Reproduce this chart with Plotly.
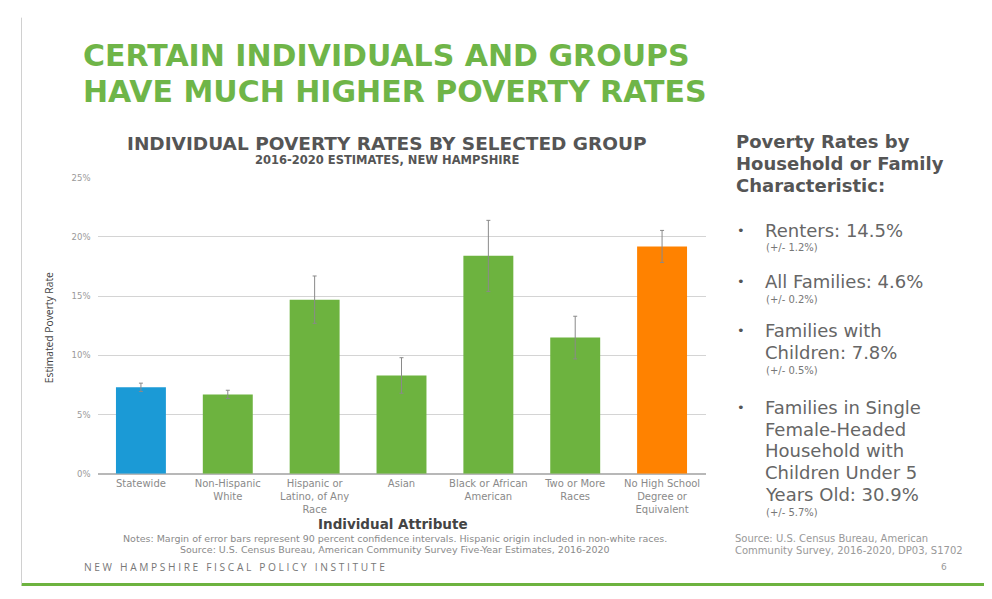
import plotly.graph_objects as go

categories = ["Statewide", "Non-Hispanic<br>White", "Hispanic or<br>Latino, of Any<br>Race", "Asian",
              "Black or African<br>American", "Two or More<br>Races", "No High School<br>Degree or<br>Equivalent"]
rates = [7.3, 6.7, 14.7, 8.3, 18.4, 11.5, 19.2]
margins = [0.35, 0.35, 2.0, 1.5, 3.0, 1.8, 1.35]
bar_colors = ["#1b9ad6", "#6db33f", "#6db33f", "#6db33f", "#6db33f", "#6db33f", "#ff8200"]
y_ticks = [0, 5, 10, 15, 20, 25]

GRAY = "#5a5a5a"
DV = "DejaVu Sans"
OS = "Open Sans"

# empirical pixel -> paper mapping
def PX(x):
    return (x - 9.5) / 992
def PY(y):
    return 1 - (y - 15.4) / 585.0

fig = go.Figure()
fig.add_trace(go.Bar(
    x=list(range(len(categories))), y=rates,
    marker=dict(color=bar_colors, line=dict(width=0)),
    width=0.575,
    error_y=dict(type="data", array=margins, visible=True, color="#8a8a8a", thickness=1, width=2),
    showlegend=False,
))

fig.update_layout(
    width=992, height=599,
    margin=dict(l=0, r=0, t=0, b=0),
    paper_bgcolor="white", plot_bgcolor="white",
    font=dict(family=DV, color=GRAY),
    xaxis=dict(domain=[PX(99), PX(707)], range=[-0.5, 6.5], tickmode="array",
               tickvals=list(range(len(categories))), ticktext=categories,
               tickfont=dict(size=10, color="#8a8a8a", family=DV), showgrid=False, zeroline=False,
               showline=False, ticks="", tickangle=0, ticklabelstandoff=2),
    yaxis=dict(domain=[PY(473), PY(179)], range=[0, 25], tickmode="array", tickvals=y_ticks,
               ticktext=[f"{v}%" for v in y_ticks], tickfont=dict(size=8.5, color="#9a9a9a", family=DV),
               showgrid=True, gridcolor="#d4d4d4", gridwidth=1, zeroline=True,
               zerolinecolor="#b8b8b8", zerolinewidth=1.5, ticks="", ticklabelstandoff=6),
)

ann = []
def A(text, x, y, size, color=GRAY, xanchor="left", family=DV, **kw):
    ann.append(dict(text=text, x=PX(x), y=PY(y), xref="paper", yref="paper",
                    xanchor=xanchor, yanchor="middle", showarrow=False,
                    font=dict(size=size, color=color, family=family), **kw))

# big slide title
A("<b>CERTAIN INDIVIDUALS AND GROUPS</b>", 82, 58, 30, color="#6fb548")
A("<b>HAVE MUCH HIGHER POVERTY RATES</b>", 82, 93, 30, color="#6fb548")

# chart titles
A("<b>INDIVIDUAL POVERTY RATES BY SELECTED GROUP</b>", 388, 145, 18.5, color="#555", xanchor="center")
A("<b>2016-2020 ESTIMATES, NEW HAMPSHIRE</b>", 388, 161, 11.5, color="#555", xanchor="center")

# axis titles
A("Estimated Poverty Rate", 50, 328, 10.3, color="#444", xanchor="center", family=OS, textangle=-90)
A("<b>Individual Attribute</b>", 394, 523, 13.5, color="#444", xanchor="center")
A("Notes: Margin of error bars represent 90 percent confidence intervals. Hispanic origin included in non-white races.",
  396, 537, 9.5, color="#8a8a8a", xanchor="center")
A("Source: U.S. Census Bureau, American Community Survey Five-Year Estimates, 2016-2020",
  396, 548, 9.5, color="#8a8a8a", xanchor="center")

# footer
A("N E W   H A M P S H I R E   F I S C A L   P O L I C Y   I N S T I T U T E", 83, 566, 10.2, color="#777", family=OS)
A("6", 940, 566, 9, color="#999")

# right panel
A("<b>Poverty Rates by</b>", 735, 143, 18, color="#555")
A("<b>Household or Family</b>", 735, 165, 18, color="#555")
A("<b>Characteristic:</b>", 735, 187, 18, color="#555")

side = [
    (["Renters: 14.5%"], "(+/- 1.2%)", 231),
    (["All Families: 4.6%"], "(+/- 0.2%)", 282),
    (["Families with", "Children: 7.8%"], "(+/- 0.5%)", 331),
    (["Families in Single", "Female-Headed", "Household with", "Children Under 5", "Years Old: 30.9%"], "(+/- 5.7%)", 407),
]
for lines, moe, ystart in side:
    A("•", 736, ystart, 13, color="#555")
    for i, ln in enumerate(lines):
        A(ln, 764, ystart + i * 21.7, 18, color="#666")
    A(moe, 765, ystart + len(lines) * 21.7 - 4, 10, color="#777")

A("Source: U.S. Census Bureau, American", 734, 537, 10, color="#999")
A("Community Survey, 2016-2020, DP03, S1702", 734, 549, 10, color="#999")

fig.update_layout(annotations=ann)

# green footer line and faint frame lines
fig.add_shape(type="line", xref="paper", yref="paper", x0=PX(23), x1=PX(987), y0=PY(583), y1=PY(583),
              line=dict(color="#6db33f", width=3))
fig.add_shape(type="line", xref="paper", yref="paper", x0=PX(23), x1=PX(23), y0=PY(583), y1=PY(20),
              line=dict(color="#d0d0d0", width=1))
fig.add_shape(type="line", xref="paper", yref="paper", x0=PX(987), x1=PX(987), y0=PY(583), y1=PY(20),
              line=dict(color="#ececec", width=1))
fig.add_shape(type="line", xref="paper", yref="paper", x0=PX(9), x1=PX(9), y0=PY(599), y1=PY(5),
              line=dict(color="#c4c4c4", width=1))

fig.write_html("out.html")
